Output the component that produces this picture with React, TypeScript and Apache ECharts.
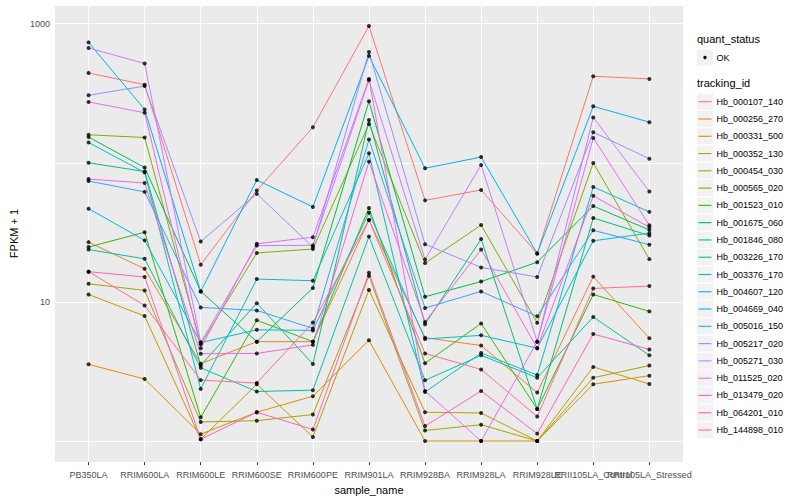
import React, { useEffect, useRef } from "react";
import * as echarts from "echarts";

const categories = [
  "PB350LA", "RRIM600LA", "RRIM600LE", "RRIM600SE", "RRIM600PE", "RRIM901LA",
  "RRIM928BA", "RRIM928LA", "RRIM928LE", "RRII105LA_Control", "RRII105LA_Stressed",
];

const trackingIds = [
  "Hb_000107_140", "Hb_000256_270", "Hb_000331_500", "Hb_000352_130", "Hb_000454_030",
  "Hb_000565_020", "Hb_001523_010", "Hb_001675_060", "Hb_001846_080", "Hb_003226_170",
  "Hb_003376_170", "Hb_004607_120", "Hb_004669_040", "Hb_005016_150", "Hb_005217_020",
  "Hb_005271_030", "Hb_011525_020", "Hb_013479_020", "Hb_064201_010", "Hb_144898_010",
];

const colors = [
  "#F8766D", "#EA8331", "#D89000", "#C09B00", "#A3A500", "#7CAE00", "#39B600", "#00BB4E",
  "#00BF7D", "#00C1A3", "#00BFC4", "#00BAE0", "#00B0F6", "#35A2FF", "#9590FF", "#C77CFF",
  "#E76BF3", "#FA62DB", "#FF62BC", "#FF6C91",
];

// FPKM + 1 per sample, in category order
const hb_000107_140 = [443, 364, 18.5, 63.2, 180, 964, 53.7, 63.8, 22.3, 419, 401];
const hb_000256_270 = [26.9, 17.3, 3.6, 5.18, 5.18, 38.8, 5.53, 4.86, 2.23, 15.2, 5.48];
const hb_000331_500 = [3.56, 2.79, 1.12, 1.61, 2.1, 5.3, 1.0, 1.0, 1.0, 2.56, 2.95];
const hb_000352_130 = [11.3, 7.92, 1.03, 2.56, 1.07, 12.2, 1.61, 1.59, 1.0, 3.41, 2.57];
const hb_000454_030 = [13.5, 12.1, 1.37, 1.4, 1.55, 15.4, 1.19, 1.31, 1.0, 2.85, 3.49];
const hb_000565_020 = [159, 152, 4.97, 22.5, 24.0, 190, 19.0, 35.7, 7.07, 99.8, 20.3];
const hb_001523_010 = [24.8, 31.7, 1.48, 7.38, 5.18, 47.4, 3.62, 7.0, 1.7, 11.3, 8.55];
const hb_001675_060 = [153, 92.5, 11.9, 5.18, 12.6, 277, 10.9, 14.0, 19.3, 48.9, 32.9];
const hb_001846_080 = [100, 86.6, 3.5, 9.79, 3.58, 203, 6.92, 28.3, 1.7, 40.1, 30.0];
const hb_003226_170 = [23.8, 20.4, 3.36, 2.27, 2.32, 29.5, 2.73, 4.13, 2.85, 7.79, 4.13];
const hb_003376_170 = [140, 85.2, 2.37, 14.6, 14.2, 117, 2.25, 4.29, 2.98, 67.1, 44.4];
const hb_004607_120 = [46.8, 27.7, 5.1, 6.3, 6.24, 43.7, 5.42, 5.75, 4.65, 27.5, 31.2];
const hb_004669_040 = [734, 242, 11.9, 75.2, 48.2, 587, 91.4, 110, 22.3, 255, 196];
const hb_005016_150 = [73.9, 61.8, 9.13, 8.69, 6.45, 147, 9.03, 11.9, 7.88, 32.7, 25.8];
const hb_005217_020 = [306, 356, 27.2, 59.8, 24.8, 626, 26.0, 17.7, 15.1, 166, 107];
const hb_005271_030 = [669, 518, 5.1, 25.4, 25.5, 393, 20.2, 96.6, 5.18, 212, 62.2];
const hb_011525_020 = [274, 229, 4.65, 26.2, 29.2, 401, 2.29, 1.0, 5.18, 151, 35.6];
const hb_013479_020 = [76.4, 71.6, 4.24, 4.26, 4.91, 102, 7.18, 23.8, 4.65, 57.9, 34.4];
const hb_064201_010 = [16.5, 15.1, 1.03, 1.61, 1.21, 16.2, 1.28, 2.29, 1.13, 5.88, 4.55];
const hb_144898_010 = [16.5, 9.43, 2.74, 2.61, 7.11, 38.8, 4.26, 3.27, 1.5, 12.5, 13.0];

const seriesValues = [
  hb_000107_140, hb_000256_270, hb_000331_500, hb_000352_130, hb_000454_030,
  hb_000565_020, hb_001523_010, hb_001675_060, hb_001846_080, hb_003226_170,
  hb_003376_170, hb_004607_120, hb_004669_040, hb_005016_150, hb_005217_020,
  hb_005271_030, hb_011525_020, hb_013479_020, hb_064201_010, hb_144898_010,
];

const yLabels = [10, 1000];
const FONT = "Liberation Sans, Arial, sans-serif";

export default function App() {
  const ref = useRef<HTMLDivElement>(null);
  useEffect(() => {
    document.body.style.margin = "0";
    if (!ref.current) return;
    const chart = echarts.init(ref.current, null, { renderer: "svg" });

    const lineSeries = seriesValues.map((vals, i) => ({
      name: trackingIds[i],
      type: "line",
      data: vals.map((v, j) => [j, v]),
      showSymbol: false,
      symbol: "none",
      lineStyle: { color: colors[i], width: 1 },
      itemStyle: { color: colors[i] },
      z: 2,
      silent: true,
    }));
    const points: number[][] = [];
    seriesValues.forEach((vals) => vals.forEach((v, j) => points.push([j, v])));

    const legendGraphics: any[] = [
      { type: "text", left: 697, top: 33, style: { text: "quant_status", fontSize: 11, fontFamily: FONT, fill: "#000" } },
      { type: "rect", shape: { x: 697, y: 49.5, width: 16, height: 16 }, style: { fill: "#F2F2F2" } },
      { type: "circle", shape: { cx: 705, cy: 57.5, r: 1.7 }, style: { fill: "#000" } },
      { type: "text", x: 716.5, y: 57.5, style: { text: "OK", fontSize: 9, fontFamily: FONT, fill: "#000", verticalAlign: "middle" } },
      { type: "text", left: 697, top: 77, style: { text: "tracking_id", fontSize: 11, fontFamily: FONT, fill: "#000" } },
    ];
    trackingIds.forEach((id, i) => {
      const cy = 101.7 + i * 17.28;
      legendGraphics.push(
        { type: "rect", shape: { x: 697, y: cy - 8, width: 16, height: 16 }, style: { fill: "#F2F2F2" } },
        { type: "line", shape: { x1: 698.5, y1: cy, x2: 711.5, y2: cy }, style: { stroke: colors[i], lineWidth: 1.1 } },
        { type: "text", x: 716.5, y: cy, style: { text: id, fontSize: 9, fontFamily: FONT, fill: "#000", verticalAlign: "middle" } }
      );
    });

    chart.setOption({
      animation: false,
      backgroundColor: "#fff",
      textStyle: { fontFamily: FONT },
      grid: {
        left: 45, right: 117, top: 5, bottom: 31,
        containLabel: false, show: true, backgroundColor: "#EBEBEB", borderWidth: 0,
      },
      xAxis: {
        type: "value",
        min: -0.6,
        max: 10.6,
        splitNumber: 11,
        axisLine: { show: false },
        axisTick: {
          show: true, length: 3,
          customValues: categories.map((_, i) => i),
          lineStyle: { color: "#333333", width: 1 },
        },
        axisLabel: {
          color: "#4D4D4D", fontSize: 9, margin: 8, fontFamily: FONT,
          showMinLabel: true, showMaxLabel: true,
          formatter: (v: number) => (Number.isInteger(v) && categories[v] ? categories[v] : ""),
        },
        splitLine: { show: true, lineStyle: { color: "#FFFFFF", width: 1 } },
        name: "sample_name",
        nameLocation: "middle",
        nameGap: 11,
        nameTextStyle: { color: "#000", fontSize: 11, fontFamily: FONT },
      },
      yAxis: {
        type: "log",
        logBase: 10,
        min: 0.7054,
        max: 1363,
        axisLine: { show: false },
        axisTick: { show: false },
        axisLabel: {
          color: "#4D4D4D", fontSize: 9, margin: 5, fontFamily: FONT,
          formatter: (v: number) => {
            const m = yLabels.find((t) => Math.abs(v - t) / t < 1e-6);
            return m ? String(m) : "";
          },
        },
        splitLine: { show: true, lineStyle: { color: "#FFFFFF", width: 1 } },
        name: "FPKM + 1",
        nameLocation: "middle",
        nameGap: 32,
        nameTextStyle: { color: "#000", fontSize: 11, fontFamily: FONT },
      },
      series: [
        ...lineSeries,
        {
          type: "scatter",
          data: points,
          symbol: "circle",
          symbolSize: 4,
          itemStyle: { color: "#000" },
          z: 5,
          silent: true,
        },
      ],
      graphic: legendGraphics,
    });
    return () => chart.dispose();
  }, []);
  return <div ref={ref} style={{ width: 800, height: 500 }} />;
}
